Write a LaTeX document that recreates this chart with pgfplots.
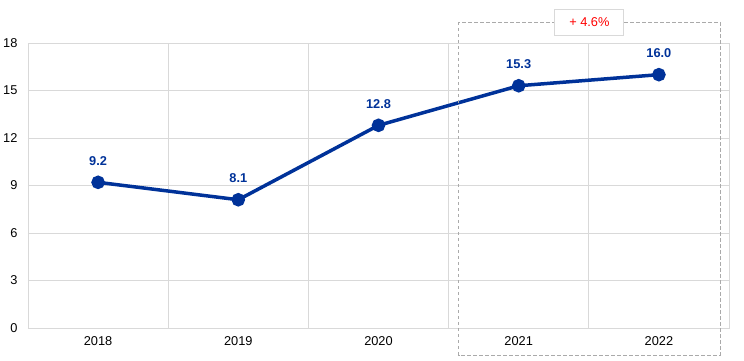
\documentclass[border=0pt]{standalone}
\usepackage{fontspec}
\setmainfont{Liberation Sans}
\usepackage{pgfplots}
\pgfplotsset{compat=1.18}
\definecolor{ecbblue}{HTML}{003299}
\definecolor{gridgray}{HTML}{D9D9D9}
\definecolor{boxgray}{HTML}{AAAAAA}
\begin{document}
\begin{tikzpicture}
\begin{axis}[
  scale only axis, width=701pt, height=285pt,
  xmin=-0.5, xmax=4.5, ymin=0, ymax=18,
  ytick={0,3,...,18},
  xtick={0,1,2,3,4}, xticklabels={2018,2019,2020,2021,2022},
  minor xtick={-0.5,0.5,1.5,2.5,3.5,4.5},
  xminorgrids=true, ymajorgrids=true,
  major tick length=0pt, minor tick length=0pt,
  grid style={gridgray, line width=0.8pt},
  minor grid style={gridgray, line width=0.8pt},
  axis line style={gridgray, line width=0.8pt},
  tick label style={font=\fontsize{12.8}{14}\selectfont, black},
  /pgf/number format/assume math mode=true,
  yticklabel style={xshift=-7pt},
  xticklabel style={yshift=-5pt},
  clip=false,
  nodes near coords,
  nodes near coords style={anchor=south, inner sep=0pt, yshift=15pt,
    font=\fontsize{12.8}{14}\selectfont\bfseries, text=ecbblue,
    /pgf/number format/.cd, fixed, fixed zerofill, precision=1},
]
\addplot[ecbblue, line width=3.5pt, mark=*, mark size=5pt,
  mark options={solid, fill=ecbblue, draw=none}]
  coordinates {(0,9.2) (1,8.1) (2,12.8) (3,15.3) (4,16.0)};
\draw[boxgray, line width=0.8pt, dash pattern=on 3.5pt off 2.5pt]
  (axis cs:2.571,19.33) rectangle (axis cs:4.436,-1.71);
\node[draw=gridgray, line width=0.8pt, fill=white, text=red,
  minimum width=69pt, minimum height=26pt, inner sep=0pt,
  font=\fontsize{12.8}{14}\selectfont] at (axis cs:3.504,19.33) {+ 4.6\%};
\coordinate (sw) at (rel axis cs:0,0);
\end{axis}
\pgfresetboundingbox
\path[use as bounding box] (sw) ++(-28pt,-33pt) rectangle ++(744pt,361pt);
\end{tikzpicture}
\end{document}
